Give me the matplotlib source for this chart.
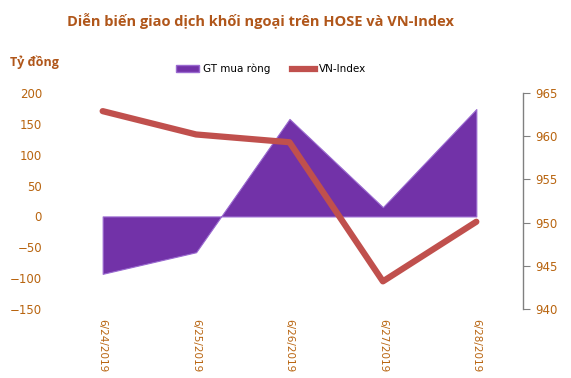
#!/usr/bin/env python3

import numpy as np
import matplotlib
matplotlib.use("Agg")
import matplotlib.pyplot as plt
from matplotlib.patches import Patch
from matplotlib.lines import Line2D

# Data
dates = ["6/24/2019", "6/25/2019", "6/26/2019", "6/27/2019", "6/28/2019"]
net_buy = [-93, -58, 158, 15, 174]          # GT mua ròng (tỷ đồng)
vn_index = [962.9, 960.2, 959.3, 943.2, 950.1]

left_ticks = [-150, -100, -50, 0, 50, 100, 150, 200]
right_ticks = [940, 945, 950, 955, 960, 965]

title_color = "#B0561A"
tick_color = "#B8640F"
purple = "#7232A8"
red = "#C0504D"

fig = plt.figure(figsize=(5.71, 3.78), dpi=100)
ax = fig.add_axes([0.098, 0.1825, 0.818, 0.5715])
ax2 = ax.twinx()

x = np.arange(len(dates))
ax.fill_between(x, net_buy, 0, color=purple, edgecolor="#9A6AD0", lw=0.8, zorder=2)
ax.set_xlim(-0.5, len(dates) - 0.5)
ax.set_ylim(left_ticks[0], left_ticks[-1])
ax.set_yticks(left_ticks)
ax.set_xticks(x)
ax.set_xticklabels(dates, rotation=270, fontsize=7.5, color=tick_color,
                   va="top", ha="center")
ax.tick_params(axis="y", length=0, labelsize=8.5, labelcolor=tick_color, pad=10)
ax.tick_params(axis="x", length=0, pad=7)
for s in ax.spines.values():
    s.set_visible(False)

ax2.plot(x, vn_index, color=red, lw=4.5, solid_capstyle="round", zorder=3)
ax2.set_ylim(right_ticks[0], right_ticks[-1])
ax2.set_yticks(right_ticks)
ax2.tick_params(axis="y", length=5, color="#808080", labelsize=8.5,
                labelcolor=tick_color, pad=4)
for k in ["top", "bottom", "left"]:
    ax2.spines[k].set_visible(False)
ax2.spines["right"].set_color("#808080")
ax2.spines["right"].set_linewidth(1)

fig.text(0.457, 0.945, "Diễn biến giao dịch khối ngoại trên HOSE và VN-Index",
         ha="center", va="center", fontsize=10.5, fontweight="bold",
         color=title_color, family=["Open Sans", "DejaVu Sans"])
fig.text(0.018, 0.835, "Tỷ đồng", ha="left", va="center", fontsize=9,
         fontweight="bold", color=title_color, family=["Open Sans", "DejaVu Sans"])

handles = [Patch(facecolor=purple, edgecolor="#9A6AD0"),
           Line2D([0], [0], color=red, lw=4.5)]
fig.legend(handles, ["GT mua ròng", "VN-Index"], loc="center",
           bbox_to_anchor=(0.475, 0.817), ncol=2, frameon=False, fontsize=7.5,
           handlelength=2.2, handleheight=0.6, columnspacing=2.0, handletextpad=0.4)

fig.savefig("out.png", dpi=100)
